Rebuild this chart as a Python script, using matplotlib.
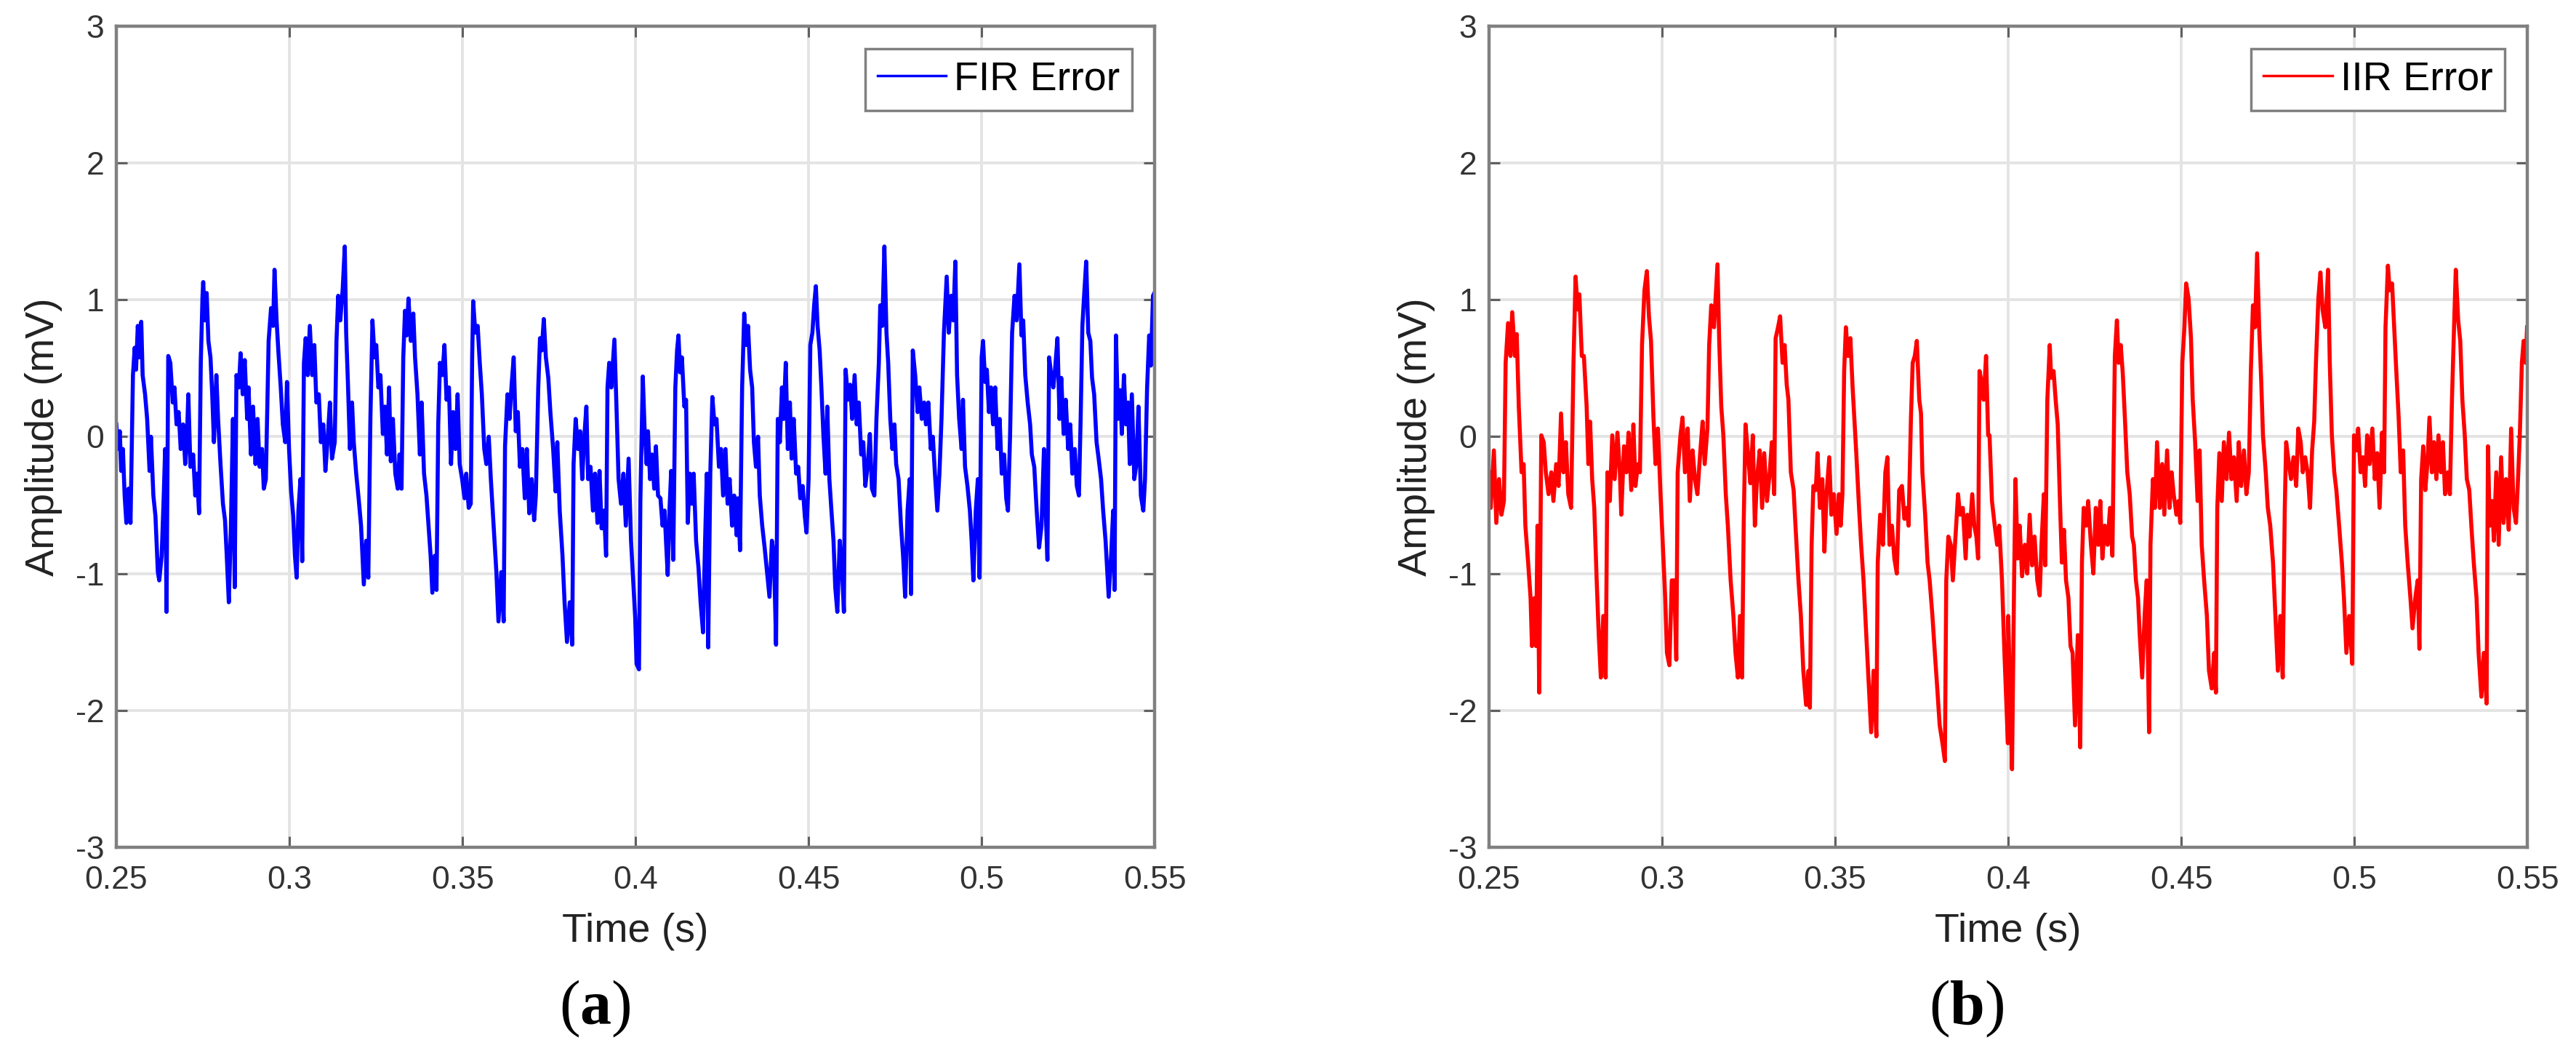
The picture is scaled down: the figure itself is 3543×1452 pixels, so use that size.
import numpy as np
import matplotlib
matplotlib.use('Agg')
from matplotlib import pyplot as plt

# FIR error trace: time in ms, amplitude in mV
fir_ms = [
    250.0, 250.5, 251.0, 251.4, 251.9, 252.4, 252.9, 253.5, 254.1, 254.8,
    255.3, 255.7, 256.2, 256.7, 257.2, 257.6, 258.3, 258.9, 259.6, 260.0,
    260.7, 261.3, 262.0, 262.4, 263.1, 263.7, 264.1, 264.5, 265.0, 265.6,
    266.3, 266.8, 267.4, 268.0, 268.6, 269.3, 269.9, 270.4, 270.8, 271.4,
    272.2, 272.8, 273.3, 273.9, 274.4, 274.9, 275.1, 275.6, 276.1, 276.6,
    277.2, 277.7, 278.2, 278.9, 279.4, 280.1, 280.8, 281.4, 281.9, 282.5,
    283.1, 283.7, 284.2, 284.7, 285.4, 285.9, 286.5, 287.1, 287.8, 288.2,
    288.9, 289.5, 290.2, 290.8, 291.4, 292.1, 292.6, 293.2, 294.0, 294.7,
    295.3, 295.7, 296.3, 296.8, 297.5, 298.1, 298.8, 299.3, 299.9, 300.5,
    301.1, 301.6, 302.1, 302.6, 303.2, 303.7, 304.2, 304.7, 305.3, 305.9,
    306.6, 307.2, 307.8, 308.5, 309.1, 309.8, 310.4, 311.0, 311.7, 312.3,
    313.1, 313.6, 314.1, 314.7, 315.4, 316.0, 316.4, 316.9, 317.5, 318.1,
    318.6, 319.3, 320.0, 320.7, 321.5, 322.2, 322.8, 323.4, 324.0, 324.6,
    325.1, 325.7, 326.3, 327.0, 327.6, 328.2, 328.8, 329.3, 329.9, 330.6,
    331.3, 331.8, 332.4, 332.9, 333.4, 333.9, 334.4, 335.1, 335.8, 336.3,
    337.0, 337.7, 338.2, 338.9, 339.6, 340.2, 340.8, 341.3, 342.0, 342.5,
    343.0, 343.5, 344.2, 344.8, 345.4, 346.1, 346.7, 347.3, 348.0, 348.6,
    349.2, 349.9, 350.6, 351.1, 351.8, 352.4, 352.8, 353.1, 353.7, 354.4,
    355.0, 355.6, 356.3, 356.9, 357.6, 358.2, 359.0, 359.8, 360.4, 361.2,
    361.9, 362.3, 363.0, 363.6, 364.2, 364.8, 365.4, 366.0, 366.6, 367.3,
    368.0, 368.6, 369.3, 370.0, 370.7, 371.2, 371.9, 372.4, 372.9, 373.5,
    374.1, 374.8, 375.4, 376.2, 376.9, 377.4, 378.1, 378.9, 379.5, 380.2,
    381.0, 381.7, 382.1, 382.7, 383.4, 384.0, 384.6, 385.2, 385.8, 386.3,
    387.0, 387.7, 388.3, 389.0, 389.6, 390.2, 390.9, 391.5, 391.9, 392.4,
    393.0, 393.9, 394.6, 395.1, 395.8, 396.5, 397.2, 398.0, 398.7, 399.9,
    400.3, 401.0, 401.4, 402.1, 402.6, 403.2, 403.6, 404.2, 404.8, 405.4,
    405.9, 406.5, 407.2, 407.8, 408.4, 408.8, 409.3, 409.8, 410.3, 410.9,
    411.5, 412.0, 412.4, 412.9, 413.4, 414.1, 414.6, 415.1, 415.7, 416.3,
    416.8, 417.5, 418.2, 418.8, 419.5, 420.1, 420.6, 421.0, 421.6, 422.2,
    422.8, 423.4, 424.1, 424.7, 425.3, 426.0, 426.6, 427.2, 427.9, 428.5,
    429.2, 429.6, 430.2, 430.8, 431.4, 431.9, 432.5, 433.1, 433.7, 434.2,
    434.8, 435.4, 435.9, 436.6, 437.3, 438.0, 438.7, 439.4, 440.0, 440.6,
    441.1, 441.7, 442.3, 442.8, 443.4, 444.0, 444.6, 445.1, 445.7, 446.4,
    447.0, 447.6, 448.3, 448.9, 449.4, 450.0, 450.5, 451.1, 451.6, 452.1,
    452.6, 453.2, 453.7, 454.3, 454.9, 455.4, 456.0, 456.6, 457.2, 457.7,
    458.3, 459.0, 459.7, 460.2, 460.7, 461.4, 462.0, 462.6, 463.3, 463.9,
    464.5, 465.2, 465.8, 466.4, 467.1, 467.7, 468.3, 469.0, 469.6, 470.3,
    470.7, 471.3, 471.9, 472.5, 473.0, 473.6, 474.2, 474.8, 475.3, 476.0,
    476.7, 477.3, 477.9, 478.6, 479.2, 479.6, 480.1, 480.8, 481.5, 482.0,
    482.7, 483.4, 483.9, 484.6, 485.3, 485.9, 486.5, 487.2, 487.8, 488.4,
    489.1, 489.9, 490.5, 491.2, 491.8, 492.4, 492.9, 493.5, 494.2, 494.6,
    495.2, 495.9, 496.6, 497.1, 497.6, 498.3, 498.9, 499.4, 500.0, 500.4,
    501.0, 501.5, 502.1, 502.7, 503.3, 503.9, 504.6, 505.2, 505.8, 506.5,
    507.1, 507.6, 508.2, 508.8, 509.5, 510.1, 510.9, 511.5, 512.0, 512.6,
    513.3, 514.0, 514.5, 515.2, 515.9, 516.6, 517.3, 518.0, 518.5, 519.0,
    519.5, 520.1, 520.7, 521.2, 521.9, 522.5, 523.0, 523.7, 524.3, 525.0,
    525.6, 526.2, 526.9, 527.5, 528.1, 528.6, 529.1, 529.6, 530.2, 530.8,
    531.4, 531.9, 532.5, 533.2, 533.8, 534.5, 535.1, 535.8, 536.3, 536.7,
    537.4, 538.0, 538.4, 538.8, 539.4, 540.0, 540.5, 541.1, 541.7, 542.3,
    542.8, 543.4, 544.1, 544.7, 545.3, 546.0, 546.7, 547.2, 547.8, 548.4,
    548.9, 549.5, 549.9,
]
fir_mv = [
    0.09, -0.09, 0.04, -0.25, -0.09, -0.43, -0.63, -0.38, -0.63, 0.45,
    0.65, 0.49, 0.81, 0.58, 0.84, 0.45, 0.31, 0.13, -0.25, 0.00,
    -0.43, -0.58, -0.99, -1.05, -0.87, -0.43, -0.09, -1.28, 0.59, 0.54,
    0.25, 0.36, 0.09, 0.18, -0.09, 0.09, -0.20, 0.00, 0.31, -0.22,
    -0.13, -0.43, -0.27, -0.56, 0.54, 1.03, 1.13, 0.85, 1.05, 0.70,
    0.58, 0.31, -0.04, 0.45, 0.13, -0.20, -0.49, -0.61, -0.87, -1.21,
    -0.65, 0.13, -1.10, 0.45, 0.36, 0.61, 0.31, 0.56, 0.13, 0.36,
    -0.13, 0.22, -0.20, 0.13, -0.22, -0.09, -0.38, -0.31, 0.70, 0.94,
    0.81, 1.22, 0.85, 0.63, 0.36, 0.09, -0.04, 0.40, -0.09, -0.40,
    -0.58, -0.87, -1.03, -0.54, -0.31, -0.91, 0.54, 0.72, 0.45, 0.81,
    0.45, 0.67, 0.25, 0.31, -0.04, 0.09, -0.25, -0.04, 0.25, -0.16,
    -0.04, 0.70, 1.03, 0.85, 1.08, 1.39, 0.76, 0.40, -0.09, 0.25,
    -0.04, -0.27, -0.45, -0.65, -1.08, -0.76, -1.03, 0.13, 0.85, 0.58,
    0.67, 0.36, 0.45, 0.02, 0.22, -0.13, 0.36, -0.18, 0.13, -0.27,
    -0.38, -0.13, -0.38, 0.58, 0.92, 0.74, 1.01, 0.70, 0.90, 0.58,
    0.31, -0.13, 0.25, -0.27, -0.43, -0.65, -0.87, -1.14, -0.87, -1.12,
    0.09, 0.54, 0.45, 0.67, 0.27, 0.36, -0.20, 0.18, -0.09, 0.31,
    -0.20, -0.31, -0.45, -0.27, -0.52, -0.49, 0.58, 0.99, 0.76, 0.81,
    0.54, 0.31, -0.09, -0.20, 0.00, -0.31, -0.65, -0.99, -1.35, -0.99,
    -1.35, -0.07, 0.31, 0.13, 0.38, 0.58, 0.04, 0.18, -0.22, -0.09,
    -0.45, -0.09, -0.56, -0.31, -0.61, -0.43, 0.36, 0.72, 0.63, 0.86,
    0.58, 0.43, 0.18, -0.09, -0.40, -0.04, -0.54, -0.87, -1.21, -1.50,
    -1.21, -1.52, -0.20, 0.13, -0.09, 0.04, -0.31, 0.00, 0.22, -0.31,
    -0.22, -0.54, -0.27, -0.63, -0.25, -0.67, -0.54, -0.87, 0.36, 0.54,
    0.36, 0.71, 0.13, -0.31, -0.49, -0.27, -0.65, -0.16, -0.76, -1.32,
    -1.66, -1.70, -0.47, 0.44, 0.07, -0.20, 0.04, -0.31, -0.13, -0.38,
    -0.07, -0.43, -0.45, -0.65, -0.54, -0.76, -1.01, -0.54, -0.25, -0.90,
    0.36, 0.63, 0.74, 0.47, 0.58, 0.22, 0.27, -0.63, -0.27, -0.49,
    -0.27, -0.76, -0.96, -1.21, -1.43, -0.76, -0.27, -1.54, -0.27, 0.29,
    0.09, 0.13, -0.22, -0.09, -0.43, -0.09, -0.49, -0.31, -0.65, -0.43,
    -0.72, -0.45, -0.83, 0.36, 0.90, 0.67, 0.81, 0.49, 0.36, -0.04,
    -0.22, 0.00, -0.43, -0.65, -0.81, -0.99, -1.17, -0.76, -0.87, -1.52,
    0.13, -0.04, 0.36, 0.13, 0.54, -0.09, 0.25, -0.16, 0.13, -0.27,
    -0.22, -0.45, -0.36, -0.58, -0.70, -0.31, 0.67, 0.76, 0.96, 1.10,
    0.81, 0.63, 0.36, 0.00, -0.27, 0.22, -0.31, -0.54, -0.76, -1.10,
    -1.28, -0.76, -0.99, -1.28, 0.49, 0.27, 0.38, 0.13, 0.45, 0.09,
    0.25, -0.13, -0.04, -0.36, -0.20, 0.02, -0.38, -0.43, 0.13, 0.54,
    0.96, 0.81, 1.39, 0.76, 0.54, 0.13, -0.09, 0.09, -0.20, -0.31,
    -0.65, -0.87, -1.17, -0.54, -0.31, -1.15, 0.63, 0.45, 0.18, 0.36,
    0.13, 0.25, 0.09, 0.25, -0.09, 0.00, -0.27, -0.54, -0.27, 0.13,
    0.76, 1.17, 0.76, 1.03, 0.85, 1.28, 0.45, 0.13, -0.09, 0.27,
    -0.22, -0.36, -0.54, -0.76, -1.05, -0.54, -0.31, -1.03, 0.58, 0.70,
    0.40, 0.49, 0.18, 0.36, 0.09, 0.36, -0.09, 0.13, -0.27, -0.13,
    -0.45, -0.54, 0.00, 0.76, 1.03, 0.85, 1.26, 0.74, 0.85, 0.45,
    0.25, 0.09, -0.13, -0.22, -0.54, -0.81, -0.65, -0.09, -0.54, -0.90,
    0.58, 0.45, 0.36, 0.49, 0.72, 0.13, 0.43, 0.02, 0.27, -0.09,
    0.09, -0.27, -0.09, -0.36, -0.43, 0.13, 0.81, 1.03, 1.28, 0.76,
    0.70, 0.43, 0.31, -0.04, -0.16, -0.31, -0.54, -0.76, -0.99, -1.17,
    -0.87, -0.54, -1.12, 0.74, 0.13, 0.34, 0.02, 0.45, 0.09, 0.25,
    -0.20, 0.31, -0.31, -0.20, 0.22, -0.43, -0.54, -0.31, 0.36, 0.74,
    0.52, 1.03, 1.05,
]

# IIR error trace
iir_ms = [
    250.0, 250.5, 251.4, 252.1, 252.9, 253.6, 254.3, 254.8, 255.5, 256.2,
    256.7, 257.5, 258.0, 258.6, 259.4, 260.0, 260.5, 261.3, 262.0, 262.4,
    263.1, 263.6, 264.0, 264.5, 265.1, 265.8, 266.4, 267.2, 268.0, 268.6,
    269.4, 270.1, 270.8, 271.5, 272.2, 272.9, 273.7, 274.4, 275.0, 275.6,
    276.1, 276.8, 277.4, 278.2, 278.7, 279.2, 279.8, 280.4, 281.1, 281.7,
    282.3, 283.0, 283.7, 284.2, 284.9, 285.6, 286.3, 287.1, 287.8, 288.2,
    289.0, 289.7, 290.3, 291.1, 291.7, 292.3, 293.0, 293.6, 294.2, 294.9,
    295.6, 296.2, 296.8, 297.5, 298.1, 298.8, 299.5, 300.2, 300.9, 301.4,
    302.1, 302.8, 303.5, 304.1, 304.5, 305.3, 305.9, 306.6, 307.4, 308.0,
    308.8, 309.5, 310.2, 311.0, 311.7, 312.3, 313.1, 313.6, 314.2, 315.0,
    316.0, 316.5, 317.1, 317.7, 318.4, 319.0, 319.8, 320.6, 321.2, 321.9,
    322.5, 323.1, 323.6, 324.1, 324.8, 325.5, 326.2, 326.8, 327.4, 328.2,
    328.9, 329.5, 330.3, 331.1, 331.7, 332.4, 332.8, 333.5, 334.1, 334.8,
    335.4, 336.0, 336.5, 337.2, 338.0, 338.6, 339.4, 340.1, 340.8, 341.6,
    342.3, 342.7, 343.2, 343.7, 344.4, 344.9, 345.6, 346.3, 346.9, 347.5,
    348.3, 348.9, 349.6, 350.4, 351.1, 351.6, 352.1, 352.6, 353.1, 353.7,
    354.4, 355.0, 355.6, 356.1, 356.9, 357.5, 358.2, 359.0, 359.8, 360.4,
    361.1, 361.9, 362.3, 363.0, 363.8, 364.5, 365.1, 365.7, 366.4, 367.1,
    367.8, 368.5, 369.3, 370.0, 370.7, 371.2, 371.9, 372.4, 373.0, 373.6,
    374.3, 374.8, 375.2, 376.0, 376.7, 377.3, 378.1, 378.8, 379.5, 380.2,
    381.0, 381.7, 382.1, 382.7, 383.4, 384.0, 384.8, 385.5, 386.1, 386.9,
    387.7, 388.2, 388.8, 389.6, 390.2, 390.8, 391.3, 391.7, 392.3, 392.9,
    393.6, 394.2, 394.6, 395.3, 396.1, 396.8, 397.4, 398.2, 398.9, 399.9,
    400.0, 400.5, 401.1, 401.7, 402.1, 402.7, 403.3, 404.0, 404.8, 405.5,
    406.2, 406.9, 407.6, 408.4, 409.1, 409.6, 410.3, 410.7, 411.3, 412.0,
    412.4, 413.1, 413.7, 414.3, 415.0, 415.5, 416.1, 416.7, 417.4, 418.0,
    418.6, 419.3, 420.1, 420.8, 421.3, 421.8, 422.5, 423.1, 423.9, 424.6,
    425.3, 426.0, 426.6, 427.2, 427.9, 428.7, 429.4, 430.1, 430.8, 431.4,
    431.9, 432.5, 433.1, 433.7, 434.4, 435.1, 435.8, 436.3, 436.9, 437.5,
    438.0, 438.7, 439.4, 440.0, 440.7, 441.1, 441.8, 442.4, 443.0, 443.8,
    444.5, 445.1, 445.9, 446.6, 447.2, 447.8, 448.6, 449.2, 449.7, 450.3,
    450.9, 451.4, 452.1, 452.8, 453.3, 454.0, 454.7, 455.3, 455.9, 456.6,
    457.4, 458.0, 458.8, 459.5, 460.0, 460.4, 461.0, 461.7, 462.3, 463.1,
    463.8, 464.5, 465.2, 466.0, 466.6, 467.3, 468.1, 468.8, 469.5, 470.1,
    470.7, 471.3, 471.9, 472.5, 473.1, 473.6, 474.4, 475.0, 475.7, 476.5,
    477.2, 477.9, 478.6, 479.3, 479.9, 480.3, 481.1, 481.7, 482.4, 483.2,
    483.8, 484.5, 485.1, 485.8, 486.5, 487.2, 487.8, 488.4, 488.9, 489.6,
    490.2, 490.8, 491.6, 492.4, 492.9, 493.5, 494.2, 494.8, 495.6, 496.4,
    497.0, 497.7, 498.5, 499.4, 499.9, 500.6, 501.1, 501.8, 502.5, 503.1,
    503.7, 504.4, 505.2, 505.9, 506.6, 507.3, 508.0, 508.6, 509.0, 509.7,
    510.2, 510.9, 511.5, 512.0, 512.8, 513.4, 514.1, 514.7, 515.4, 516.2,
    516.8, 517.6, 518.3, 518.8, 519.3, 519.9, 520.5, 521.1, 521.7, 522.4,
    523.0, 523.7, 524.3, 525.0, 525.6, 526.2, 527.0, 527.6, 528.2, 528.8,
    529.3, 530.0, 530.6, 531.2, 531.9, 532.5, 533.2, 533.8, 534.5, 535.3,
    535.9, 536.7, 537.4, 538.2, 538.6, 539.1, 539.8, 540.3, 541.0, 541.7,
    542.4, 543.1, 543.8, 544.6, 545.3, 546.0, 546.7, 547.2, 547.8, 548.4,
    548.9, 549.5, 549.9,
]
iir_mv = [
    -0.26, -0.52, -0.10, -0.63, -0.31, -0.57, -0.47, 0.54, 0.83, 0.59,
    0.91, 0.59, 0.75, 0.22, -0.26, -0.20, -0.65, -0.92, -1.18, -1.53,
    -1.18, -1.53, -0.65, -1.87, 0.01, -0.04, -0.26, -0.42, -0.26, -0.47,
    -0.20, -0.36, 0.17, -0.26, -0.04, -0.42, -0.52, 0.54, 1.17, 0.93,
    1.04, 0.59, 0.59, 0.22, -0.20, 0.11, -0.31, -0.52, -1.05, -1.45,
    -1.76, -1.31, -1.76, -0.26, -0.47, 0.01, -0.31, 0.03, -0.26, -0.57,
    -0.07, -0.26, 0.03, -0.39, 0.09, -0.36, -0.20, -0.26, 0.67, 1.07,
    1.21, 0.88, 0.70, 0.14, -0.20, 0.06, -0.39, -0.79, -1.18, -1.58,
    -1.67, -1.05, -1.05, -1.63, -0.26, 0.01, 0.14, -0.26, 0.06, -0.47,
    -0.10, -0.31, -0.42, -0.12, 0.11, -0.20, 0.06, 0.67, 0.96, 0.80,
    1.26, 0.70, 0.22, 0.01, -0.42, -0.65, -1.05, -1.31, -1.58, -1.76,
    -1.31, -1.76, -0.60, 0.09, -0.12, -0.34, 0.01, -0.65, -0.31, -0.10,
    -0.52, -0.12, -0.47, -0.26, -0.04, -0.42, 0.72, 0.80, 0.88, 0.54,
    0.67, 0.38, 0.27, -0.26, -0.39, -0.68, -1.05, -1.31, -1.71, -1.96,
    -1.71, -1.98, -0.79, -0.36, -0.39, -0.12, -0.52, -0.31, -0.84, -0.42,
    -0.15, -0.57, -0.42, -0.71, -0.42, -0.65, -0.42, 0.48, 0.80, 0.59,
    0.72, 0.38, 0.11, -0.12, -0.52, -0.79, -1.05, -1.45, -1.84, -2.16,
    -1.71, -2.19, -0.92, -0.57, -0.79, -0.26, -0.15, -0.79, -0.65, -0.89,
    -1.00, -0.39, -0.36, -0.60, -0.52, -0.65, 0.14, 0.54, 0.59, 0.70,
    0.27, 0.17, -0.26, -0.57, -0.92, -1.05, -1.31, -1.58, -1.84, -2.11,
    -2.24, -2.37, -1.05, -0.73, -0.79, -1.05, -0.71, -0.42, -0.57, -0.52,
    -0.89, -0.57, -0.73, -0.42, -0.65, -0.73, -0.89, 0.48, 0.40, 0.27,
    0.59, 0.01, 0.01, -0.47, -0.65, -0.79, -0.65, -1.05, -1.58, -2.24,
    -1.31, -1.84, -2.43, -1.05, -0.31, -0.89, -0.65, -1.02, -0.79, -1.00,
    -0.57, -0.94, -0.73, -1.05, -1.16, -0.79, -0.42, -0.94, 0.27, 0.67,
    0.43, 0.48, 0.27, 0.09, -0.52, -0.92, -0.68, -1.05, -1.18, -1.53,
    -1.58, -2.11, -1.45, -2.27, -0.92, -0.52, -0.65, -0.47, -0.79, -1.00,
    -0.52, -0.79, -0.47, -0.89, -0.65, -0.79, -0.52, -0.87, 0.59, 0.85,
    0.54, 0.67, 0.46, 0.14, -0.26, -0.42, -0.73, -0.79, -1.05, -1.18,
    -1.45, -1.76, -1.31, -1.05, -2.16, -0.79, -0.31, -0.52, -0.04, -0.52,
    -0.20, -0.57, -0.10, -0.52, -0.26, -0.42, -0.57, -0.47, -0.63, 0.54,
    0.80, 1.12, 1.01, 0.72, 0.27, -0.04, -0.47, -0.10, -0.79, -1.05,
    -1.31, -1.71, -1.84, -1.58, -1.87, -0.52, -0.12, -0.47, -0.04, -0.31,
    0.03, -0.31, -0.15, -0.47, -0.04, -0.36, -0.10, -0.42, -0.26, 0.48,
    0.96, 0.80, 1.34, 0.80, 0.40, 0.01, -0.26, -0.52, -0.65, -0.92,
    -1.31, -1.71, -1.31, -1.76, -0.52, -0.04, -0.20, -0.31, -0.15, -0.36,
    0.06, -0.04, -0.26, -0.15, -0.26, -0.52, -0.10, 0.11, 0.54, 1.01,
    1.20, 0.93, 0.80, 1.22, 0.54, 0.01, -0.26, -0.39, -0.65, -0.92,
    -1.18, -1.58, -1.31, -1.66, 0.01, -0.10, 0.06, -0.26, -0.15, -0.36,
    0.01, -0.20, 0.06, -0.31, -0.12, -0.52, 0.03, -0.26, 0.80, 1.25,
    1.07, 1.12, 0.80, 0.54, 0.14, -0.26, -0.10, -0.65, -0.92, -1.18,
    -1.40, -1.18, -1.05, -1.55, -0.31, -0.07, -0.39, -0.20, 0.14, -0.26,
    -0.04, -0.31, 0.01, -0.26, -0.04, -0.42, -0.26, -0.42, 0.27, 0.80,
    1.22, 0.85, 0.70, 0.27, 0.01, -0.31, -0.39, -0.65, -0.92, -1.18,
    -1.58, -1.90, -1.58, -1.95, -0.07, -0.65, -0.47, -0.76, -0.26, -0.79,
    -0.15, -0.63, -0.31, -0.68, 0.06, -0.52, -0.63, -0.36, 0.01, 0.54,
    0.70, 0.54, 0.80,
]

x_ticks = [0.25, 0.30, 0.35, 0.40, 0.45, 0.50, 0.55]
x_tick_labels = ['0.25', '0.3', '0.35', '0.4', '0.45', '0.5', '0.55']
y_ticks = [-3, -2, -1, 0, 1, 2, 3]
y_tick_labels = ['-3', '-2', '-1', '0', '1', '2', '3']

plt.rcParams['font.family'] = ['Liberation Sans', 'DejaVu Sans']
plt.rcParams['axes.unicode_minus'] = False
plt.rcParams['mathtext.fontset'] = 'custom'
plt.rcParams['mathtext.bf'] = 'Liberation Serif:bold'
plt.rcParams['mathtext.rm'] = 'Liberation Serif'

fig = plt.figure(figsize=(35.43, 14.52), dpi=100)


def draw_panel(left, t_ms, mv, color, label, tag, tag_x):
    ax = fig.add_axes([left, 0.1977, 0.4031, 0.7775])
    t = np.array(t_ms) / 1000.0
    ax.plot(t, mv, color=color, lw=4.0, label=label)

    ax.set_xlim(0.25, 0.55)
    ax.set_ylim(-3, 3)
    ax.set_xticks(x_ticks)
    ax.set_xticklabels(x_tick_labels)
    ax.set_yticks(y_ticks)
    ax.set_yticklabels(y_tick_labels)
    ax.grid(True, color='#e4e4e4', linewidth=2.8)
    ax.set_axisbelow(True)
    ax.tick_params(axis='both', direction='in', length=11, width=2.2,
                   color='#606060', labelcolor='#333333', labelsize=32,
                   top=True, right=True)
    ax.tick_params(axis='x', pad=18)
    ax.tick_params(axis='y', pad=12)
    for s in ax.spines.values():
        s.set_color('#808080')
        s.set_linewidth(3.2)

    ax.text(0.5, -0.1151, 'Time (s)', transform=ax.transAxes,
            ha='center', va='baseline', fontsize=40, color='#222222')
    ax.text(-0.070, 0.5, 'Amplitude (mV)', transform=ax.transAxes,
            rotation=90, ha='center', va='center', fontsize=40,
            color='#222222')

    leg = ax.legend(loc='upper right', fontsize=40, frameon=True,
                    fancybox=False, framealpha=1, edgecolor='#808080',
                    borderaxespad=0.56, handlelength=1.7,
                    handletextpad=0.2, borderpad=0.3)
    leg.get_frame().set_linewidth(2.5)
    leg.get_lines()[0].set_linewidth(2.5)

    fig.text(tag_x, 0.0303, '($\\mathbf{' + tag + '}$)', ha='center',
             va='baseline', fontsize=62, family='Liberation Serif')
    return ax


draw_panel(0.04516, fir_ms, fir_mv, '#0000ff', 'FIR Error', 'a', 0.2309)
draw_panel(0.57804, iir_ms, iir_mv, '#ff0000', 'IIR Error', 'b', 0.7635)

fig.savefig('out.png', dpi=100)
